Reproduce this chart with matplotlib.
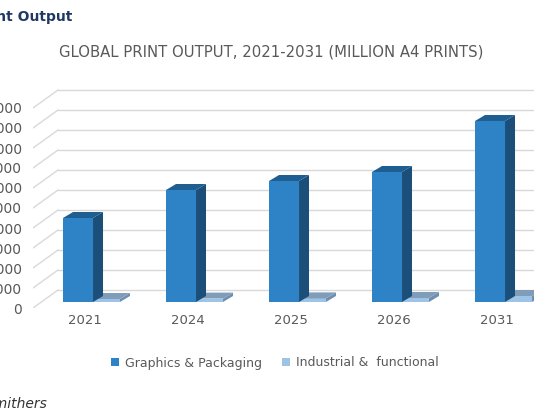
import matplotlib
matplotlib.use("Agg")
import matplotlib.pyplot as plt
from matplotlib.patches import Polygon, Patch

years = ["2021", "2024", "2025", "2026", "2031"]
graphics = [4.2e6, 5.6e6, 6.05e6, 6.5e6, 9.05e6]
industrial = [0.15e6, 0.17e6, 0.18e6, 0.2e6, 0.3e6]
yticks = [i * 1e6 for i in range(11)]
ylabels = ["0"] + [f"{i:,}000" for i in range(1, 11)]

W, H = 534, 420
fig = plt.figure(figsize=(W / 100, H / 100), dpi=100)
ax = fig.add_axes([33 / W, 112 / H, 501 / W, 220 / H])
ax.set_ylim(0, 1.1e7)
ax.set_xlim(-0.505, -0.505 + 501 / 103)
for s in ax.spines.values():
    s.set_visible(False)
ax.set_xticks([])
ax.set_yticks(yticks)
ax.set_yticklabels(ylabels, color="#595959", fontsize=10)
ax.tick_params(axis="y", length=0, pad=8)

px = 1 / 103
py = 1.1e7 / 220
xl = -0.505
for v in yticks:
    ax.plot([xl, xl + 25 * px], [v, v + 18 * py], color="#D9D9D9", lw=1, zorder=0)
    ax.plot([xl + 25 * px, 10], [v + 18 * py, v + 18 * py], color="#D9D9D9", lw=1, zorder=0)

dx, dy = 10 * px, 6 * py
base = 6 * py

def bar3d(x0, w, h, front, side, top):
    ax.add_patch(Polygon([(x0, base), (x0 + w, base), (x0 + w, base + h), (x0, base + h)],
                         closed=True, fc=front, ec="none", zorder=3))
    ax.add_patch(Polygon([(x0 + w, base), (x0 + w + dx, base + dy), (x0 + w + dx, base + h + dy),
                          (x0 + w, base + h)], closed=True, fc=side, ec="none", zorder=3))
    ax.add_patch(Polygon([(x0, base + h), (x0 + w, base + h), (x0 + w + dx, base + h + dy),
                          (x0 + dx, base + h + dy)], closed=True, fc=top, ec="none", zorder=3))

bw = 30 * px
for i, (g, ind) in enumerate(zip(graphics, industrial)):
    x0 = i - 22 * px
    bar3d(x0 + bw, 27 * px, ind, "#9DC3E6", "#6F8FB0", "#7F9CB8")
    bar3d(x0, bw, g, "#2E83C6", "#1B4F7A", "#1F5E90")
    ax.text(i, -13 * py, years[i], ha="center", va="center", color="#595959", fontsize=9.5)

fig.text(271 / W, 1 - 52 / H, "GLOBAL PRINT OUTPUT, 2021-2031 (MILLION A4 PRINTS)",
         ha="center", va="center", color="#595959", fontsize=10.7)
fig.text(72 / W, 1 - 17 / H, "Global Print Output", ha="right", va="center",
         color="#1F3864", fontsize=10, fontweight="bold")
fig.text(48 / W, 1 - 404 / H, "Smithers", ha="right", va="center",
         color="#333333", fontsize=10, style="italic")
fig.legend(handles=[Patch(fc="#2E83C6", label="Graphics & Packaging"),
                    Patch(fc="#9DC3E6", label="Industrial &  functional")],
           loc="center", bbox_to_anchor=(275 / W, 1 - 363 / H), ncol=2, frameon=False,
           fontsize=9, handlelength=0.6, handleheight=0.6, handletextpad=0.5,
           columnspacing=1.6, labelcolor="#595959")
fig.savefig("out.png", dpi=100)
